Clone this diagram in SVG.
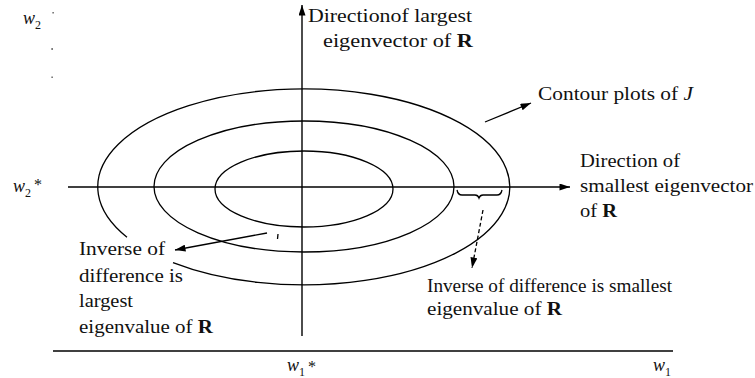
<svg xmlns="http://www.w3.org/2000/svg" width="755" height="378" viewBox="0 0 755 378">
<style>
  .ln { stroke: #000; stroke-width: 1.3; fill: none; }
  .ax { stroke: #000; stroke-width: 1.4; fill: none; }
  .t { font-family: "Liberation Serif", "Times New Roman", serif; font-size: 18px; fill: #111; }
  .v { font-family: "Liberation Serif", "Times New Roman", serif; font-style: italic; font-size: 18px; fill: #111; }
  .sub { font-size: 12px; font-style: normal; }
  .star { font-size: 16px; font-style: normal; }
  .b { font-weight: bold; }
</style>
<defs>
  <marker id="ah" viewBox="0 0 12 8" refX="12" refY="4" markerWidth="12" markerHeight="7" markerUnits="userSpaceOnUse" orient="auto">
    <path d="M0,0 L12,4 L0,8 Z" fill="#000"/>
  </marker>
  <marker id="ahs" viewBox="0 0 12 8" refX="12" refY="4" markerWidth="11" markerHeight="7" markerUnits="userSpaceOnUse" orient="auto">
    <path d="M0,0 L12,4 L0,8 Z" fill="#000"/>
  </marker>
</defs>

<g id="axes">
  <line class="ax" x1="68" y1="187" x2="570" y2="187" marker-end="url(#ah)"/>
  <line class="ax" x1="302" y1="336" x2="302" y2="5" marker-end="url(#ah)"/>
  <line class="ax" x1="53" y1="351" x2="673" y2="351"/>
  <rect x="52.5" y="12" width="1.2" height="1.5" fill="#444"/>
  <rect x="51.5" y="48" width="1.2" height="2" fill="#444"/>
  <rect x="51.5" y="76.5" width="1.2" height="1.5" fill="#444"/>
</g>

<g id="contour-inner">
  <ellipse class="ln" cx="304" cy="189" rx="89" ry="38"/>
</g>
<g id="contour-middle">
  <ellipse class="ln" cx="304" cy="186.5" rx="150" ry="65.5"/>
</g>
<g id="contour-outer">
  <path class="ln" d="M 173 262.6 A 206 98 0 1 0 127 237.2"/>
</g>

<g id="connectors">
  <line class="ln" x1="485" y1="122" x2="531" y2="103" marker-end="url(#ahs)"/>
  <line class="ln" x1="267" y1="233" x2="175" y2="250" marker-end="url(#ahs)"/>
  <line class="ln" x1="483" y1="210" x2="472" y2="268" stroke-dasharray="4,2.5" marker-end="url(#ahs)"/>
  <path class="ln" d="M457,190 Q458,195 462,195 L475,195 Q478,195 479,198 Q480,195 483,195 L497,195 Q501,195 502,190" stroke-width="1.1"/>
  <line class="ln" x1="278" y1="234" x2="277.5" y2="239" stroke-width="1"/>
</g>

<g id="label-w2">
  <text class="v" x="23" y="24">w<tspan class="sub" dy="5">2</tspan></text>
</g>
<g id="label-w2star">
  <text class="v" x="13" y="192">w<tspan class="sub" dy="5">2</tspan><tspan class="star" dx="3" dy="-7">*</tspan></text>
</g>
<g id="label-w1star">
  <text class="v" x="287" y="371">w<tspan class="sub" dy="5">1</tspan><tspan class="star" dx="3" dy="-4">*</tspan></text>
</g>
<g id="label-w1">
  <text class="v" x="653" y="371">w<tspan class="sub" dy="5">1</tspan></text>
</g>

<g id="label-largest-dir">
  <text class="t" x="308" y="22" textLength="164" lengthAdjust="spacingAndGlyphs">Directionof largest</text>
  <text class="t" x="323" y="47" textLength="150" lengthAdjust="spacingAndGlyphs">eigenvector of <tspan class="b">R</tspan></text>
</g>
<g id="label-contour">
  <text class="t" x="538" y="100" textLength="155" lengthAdjust="spacingAndGlyphs">Contour plots of <tspan font-style="italic">J</tspan></text>
</g>
<g id="label-smallest-dir">
  <text class="t" x="580" y="167" textLength="100" lengthAdjust="spacingAndGlyphs">Direction of</text>
  <text class="t" x="580" y="192" textLength="173" lengthAdjust="spacingAndGlyphs">smallest eigenvector</text>
  <text class="t" x="580" y="217" textLength="37" lengthAdjust="spacingAndGlyphs">of <tspan class="b">R</tspan></text>
</g>
<g id="label-largest-eig">
  <text class="t" x="79" y="255" textLength="86" lengthAdjust="spacingAndGlyphs">Inverse of</text>
  <text class="t" x="79" y="282" textLength="104" lengthAdjust="spacingAndGlyphs">difference is</text>
  <text class="t" x="79" y="307" textLength="54" lengthAdjust="spacingAndGlyphs">largest</text>
  <text class="t" x="79" y="333" textLength="134" lengthAdjust="spacingAndGlyphs">eigenvalue of <tspan class="b">R</tspan></text>
</g>
<g id="label-smallest-eig">
  <text class="t" x="427" y="292" textLength="245" lengthAdjust="spacingAndGlyphs">Inverse of difference is smallest</text>
  <text class="t" x="427" y="315" textLength="135" lengthAdjust="spacingAndGlyphs">eigenvalue of <tspan class="b">R</tspan></text>
</g>
</svg>
